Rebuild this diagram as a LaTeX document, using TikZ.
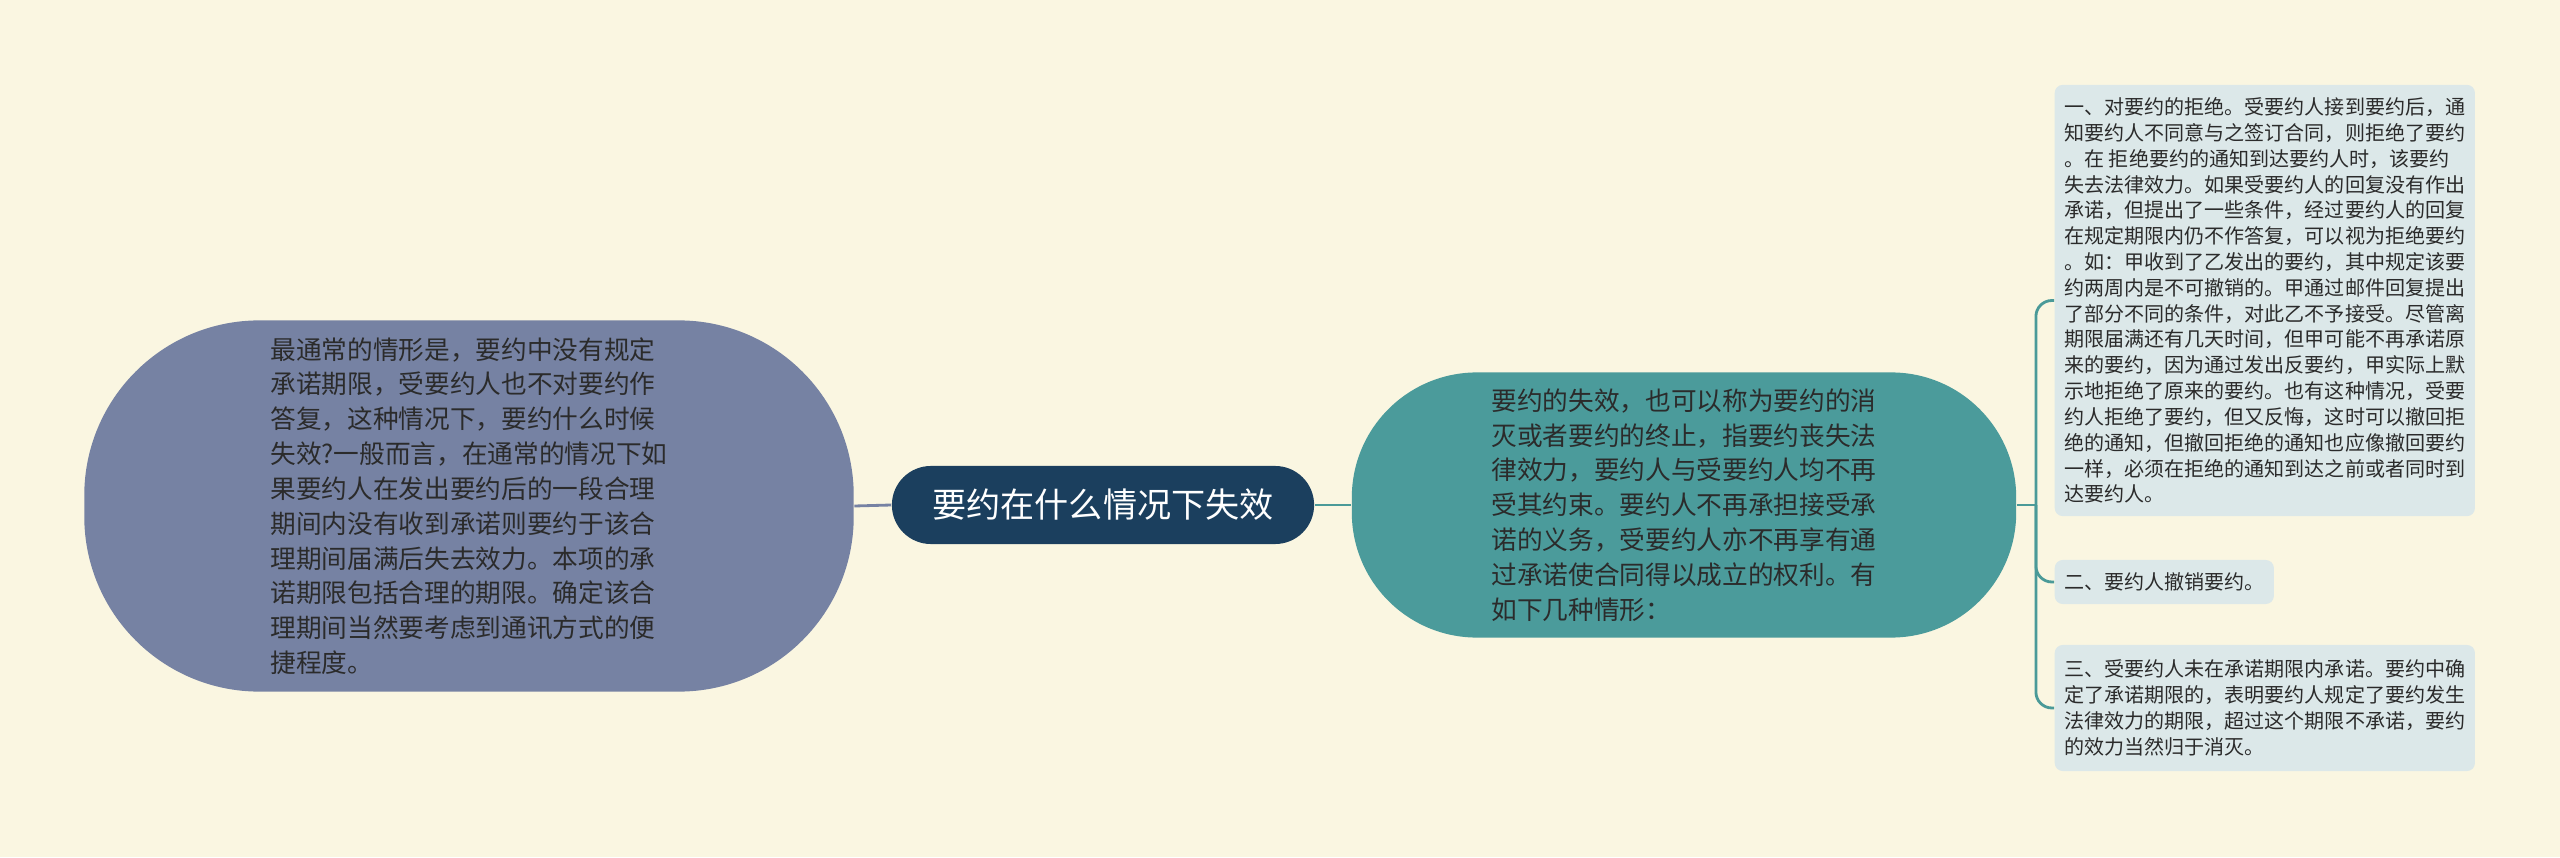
\documentclass[tikz,border=0pt]{standalone}
\usepackage{fontspec}
\usepackage{xcolor}
\usepackage{tikz}
\usetikzlibrary{positioning,calc}
\newfontfamily\cjk{Noto Sans CJK SC}

\definecolor{bgcream}{HTML}{FAF6E1}
\definecolor{rootblue}{HTML}{1B3F5E}
\definecolor{slate}{HTML}{7682A3}
\definecolor{tealfill}{HTML}{4B9B9B}
\definecolor{boxfill}{HTML}{DCE8E9}
\definecolor{tealline}{HTML}{4A9A98}
\definecolor{textdark}{HTML}{2B2B2B}

\begin{document}
\begin{tikzpicture}[
			x = 0.01cm, y = 0.01cm,
			every node/.style = {font = \cjk, text = textdark, inner sep = 0pt},
			rootnode/.style = {fill = rootblue, text = white, rounded corners = 0.39cm,
				minimum width = 4.22cm, minimum height = 0.78cm,
				font = \cjk\fontsize{9.7}{11}\selectfont},
			bubble/.style = {rounded corners = #1, align = left,
				font = \cjk\fontsize{7.3}{9.9}\selectfont},
			leafbox/.style = {fill = boxfill, rounded corners = 0.08cm, align = left,
				anchor = west, minimum width = 4.2cm,
				font = \cjk\fontsize{5.7}{7.34}\selectfont},
			lbranch/.style = {draw = slate, line width = 0.8pt},
			tbranch/.style = {draw = tealline, line width = 0.8pt, rounded corners = 0.16cm}
			]

			\def\forkx{19}

			\fill[bgcream] (0,0) rectangle (2560,857);
			\useasboundingbox (0,0) rectangle (2560,857);

			\node[rootnode] (root) at (1103,352) {要约在什么情况下失效};

			\node[bubble = 1.75cm, fill = slate, minimum width = 7.69cm, minimum height = 3.71cm] (lnode) at (469,351)
				{最通常的情形是，要约中没有规定\\承诺期限，受要约人也不对要约作\\答复，这种情况下，要约什么时候\\失效?一般而言，在通常的情况下如\\果要约人在发出要约后的一段合理\\期间内没有收到承诺则要约于该合\\理期间届满后失去效力。本项的承\\诺期限包括合理的期限。确定该合\\理期间当然要考虑到通讯方式的便\\捷程度。};

			\node[bubble = 1.25cm, fill = tealfill, minimum width = 6.64cm, minimum height = 2.65cm] (tnode) at (1684,352)
				{要约的失效，也可以称为要约的消\\灭或者要约的终止，指要约丧失法\\律效力，要约人与受要约人均不再\\受其约束。要约人不再承担接受承\\诺的义务，受要约人亦不再享有通\\过承诺使合同得以成立的权利。有\\如下几种情形：};

			\node[leafbox, minimum height = 4.31cm] (ra) at (2054,556.5)
				{一、对要约的拒绝。受要约人接到要约后，通\\知要约人不同意与之签订合同，则拒绝了要约\\。在 拒绝要约的通知到达要约人时，该要约\\失去法律效力。如果受要约人的回复没有作出\\承诺，但提出了一些条件，经过要约人的回复\\在规定期限内仍不作答复，可以视为拒绝要约\\。如：甲收到了乙发出的要约，其中规定该要\\约两周内是不可撤销的。甲通过邮件回复提出\\了部分不同的条件，对此乙不予接受。尽管离\\期限届满还有几天时间，但甲可能不再承诺原\\来的要约，因为通过发出反要约，甲实际上默\\示地拒绝了原来的要约。也有这种情况，受要\\约人拒绝了要约，但又反悔，这时可以撤回拒\\绝的通知，但撤回拒绝的通知也应像撤回要约\\一样，必须在拒绝的通知到达之前或者同时到\\达要约人。};
			\node[leafbox, minimum width = 2.19cm, minimum height = 0.44cm] (rb) at (2054,275)
				{二、要约人撤销要约。};
			\node[leafbox, minimum height = 1.26cm] (rc) at (2054,149)
				{三、受要约人未在承诺期限内承诺。要约中确\\定了承诺期限的，表明要约人规定了要约发生\\法律效力的期限，超过这个期限不承诺，要约\\的效力当然归于消灭。};

			\draw[lbranch] (root.west) -- (lnode.east);
			\draw[tbranch] (root.east) -- (tnode.west);
			\draw[tbranch] (tnode.east) -- ++(\forkx,0) coordinate (fork);
			\foreach \leaf in {ra,rb,rc}
				\draw[tbranch] (fork) |- (\leaf.west);

		\end{tikzpicture}
\end{document}
